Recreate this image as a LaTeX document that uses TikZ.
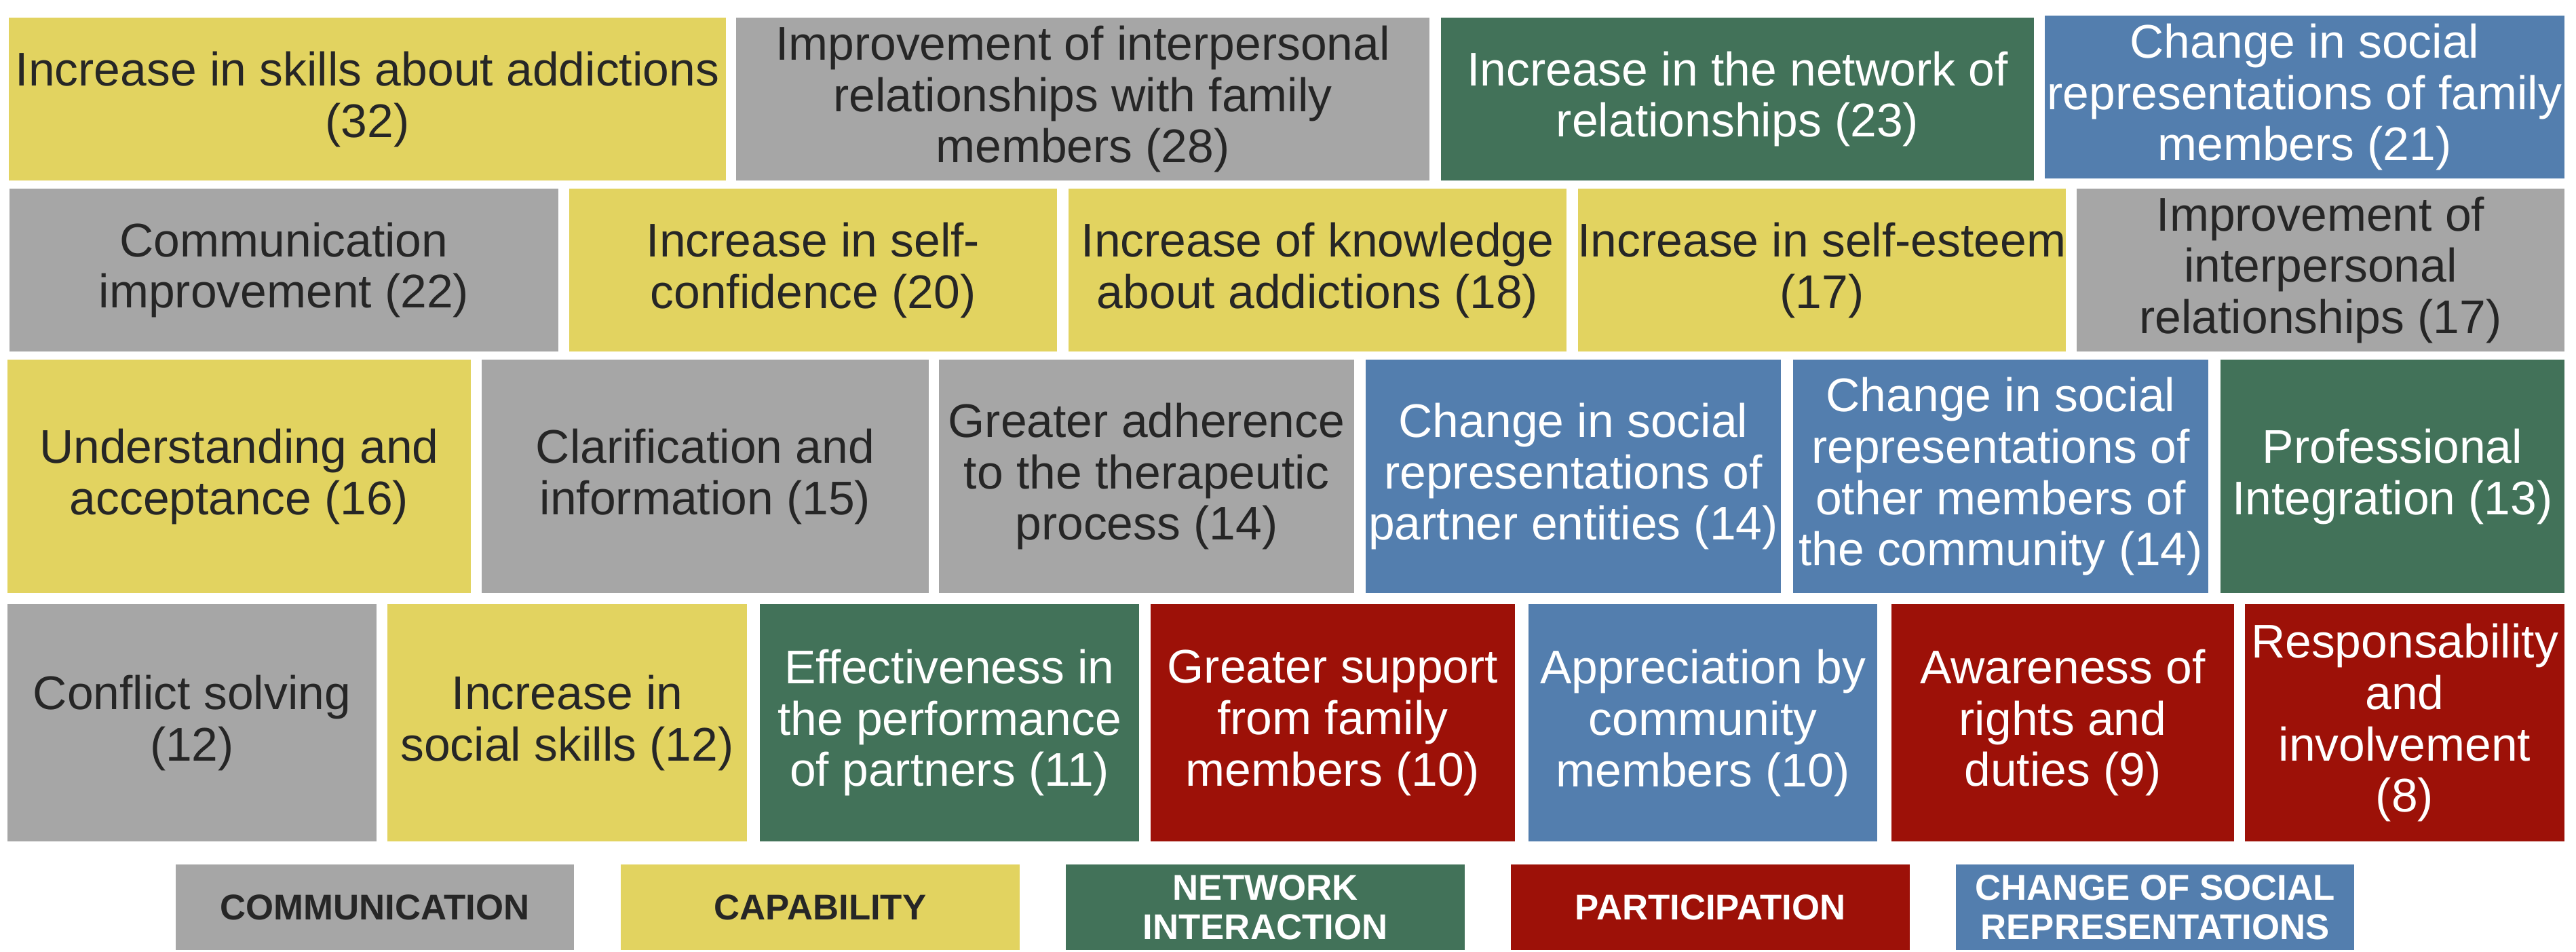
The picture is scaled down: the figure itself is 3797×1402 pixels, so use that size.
\documentclass[tikz,border=0pt]{standalone}
\usepackage{fontspec}
\setmainfont{Liberation Sans}
\definecolor{cyel}{RGB}{226,211,96}
\definecolor{cgry}{RGB}{166,166,166}
\definecolor{cgrn}{RGB}{66,114,89}
\definecolor{cblu}{RGB}{83,126,174}
\definecolor{cred}{RGB}{157,17,8}
\definecolor{ctxt}{RGB}{38,38,38}
\newcommand{\tb}[7]{%
  \pgfmathsetmacro{\tbCX}{(#3+#5)/2}\pgfmathsetmacro{\tbCY}{(#4+#6)/2}%
  \pgfmathsetmacro{\tbW}{(#5-#3)/100}\pgfmathsetmacro{\tbH}{(#6-#4)/100}%
  \node[#2, minimum width=\tbW cm, minimum height=\tbH cm] (#1) at (\tbCX,\tbCY) {#7};}
\tikzset{
  basebox/.style={rectangle, inner sep=0pt, align=center, font=\fontsize{19.8}{21.6}\selectfont},
  yel/.style={basebox, fill=cyel, text=ctxt},
  gry/.style={basebox, fill=cgry, text=ctxt},
  grn/.style={basebox, fill=cgrn, text=white},
  blu/.style={basebox, fill=cblu, text=white},
  rdd/.style={basebox, fill=cred, text=white},
  leg/.style={font=\bfseries\fontsize{15}{16.5}\selectfont}
}
\begin{document}
\begin{tikzpicture}[x=0.01cm,y=-0.01cm]
\useasboundingbox[fill=white] (0,0) rectangle (3797,1402);
% Row 1
\tb{a1}{yel}{13}{26}{1070}{266}{Increase in skills about addictions\\(32)}
\tb{a2}{gry}{1085}{26}{2107}{266}{Improvement of interpersonal\\relationships with family\\members (28)}
\tb{a3}{grn}{2124}{26}{2998}{266}{Increase in the network of\\relationships (23)}
\tb{a4}{blu}{3014}{23}{3780}{263}{Change in social\\representations of family\\members (21)}
% Row 2
\tb{b1}{gry}{14}{278}{823}{518}{Communication\\improvement (22)}
\tb{b2}{yel}{839}{278}{1558}{518}{Increase in self-\\confidence (20)}
\tb{b3}{yel}{1575}{278}{2309}{518}{Increase of knowledge\\about addictions (18)}
\tb{b4}{yel}{2326}{278}{3045}{518}{Increase in self-esteem\\(17)}
\tb{b5}{gry}{3061}{278}{3780}{518}{Improvement of\\interpersonal\\relationships (17)}
% Row 3
\tb{c1}{yel}{11}{530}{694}{874}{Understanding and\\acceptance (16)}
\tb{c2}{gry}{710}{530}{1369}{874}{Clarification and\\information (15)}
\tb{c3}{gry}{1384}{530}{1996}{874}{Greater adherence\\to the therapeutic\\process (14)}
\tb{c4}{blu}{2013}{530}{2625}{874}{Change in social\\representations of\\partner entities (14)}
\tb{c5}{blu}{2643}{530}{3255}{874}{Change in social\\representations of\\other members of\\the community (14)}
\tb{c6}{grn}{3273}{530}{3780}{874}{Professional\\Integration (13)}
% Row 4
\tb{d1}{gry}{11}{890}{555}{1240}{Conflict solving\\(12)}
\tb{d2}{yel}{571}{890}{1101}{1240}{Increase in\\social skills (12)}
\tb{d3}{grn}{1120}{890}{1679}{1240}{Effectiveness in\\the performance\\of partners (11)}
\tb{d4}{rdd}{1696}{890}{2233}{1240}{Greater support\\from family\\members (10)}
\tb{d5}{blu}{2253}{890}{2767}{1240}{Appreciation by\\community\\members (10)}
\tb{d6}{rdd}{2788}{890}{3293}{1240}{Awareness of\\rights and\\duties (9)}
\tb{d7}{rdd}{3309}{890}{3780}{1240}{Responsability\\and\\involvement\\(8)}
% Legend
\tb{l1}{gry,leg}{259}{1274}{846}{1400}{COMMUNICATION}
\tb{l2}{yel,leg}{915}{1274}{1503}{1400}{CAPABILITY}
\tb{l3}{grn,leg}{1571}{1274}{2159}{1400}{NETWORK\\INTERACTION}
\tb{l4}{rdd,leg}{2227}{1274}{2815}{1400}{PARTICIPATION}
\tb{l5}{blu,leg}{2883}{1274}{3470}{1400}{CHANGE OF SOCIAL\\REPRESENTATIONS}
\end{tikzpicture}
\end{document}
